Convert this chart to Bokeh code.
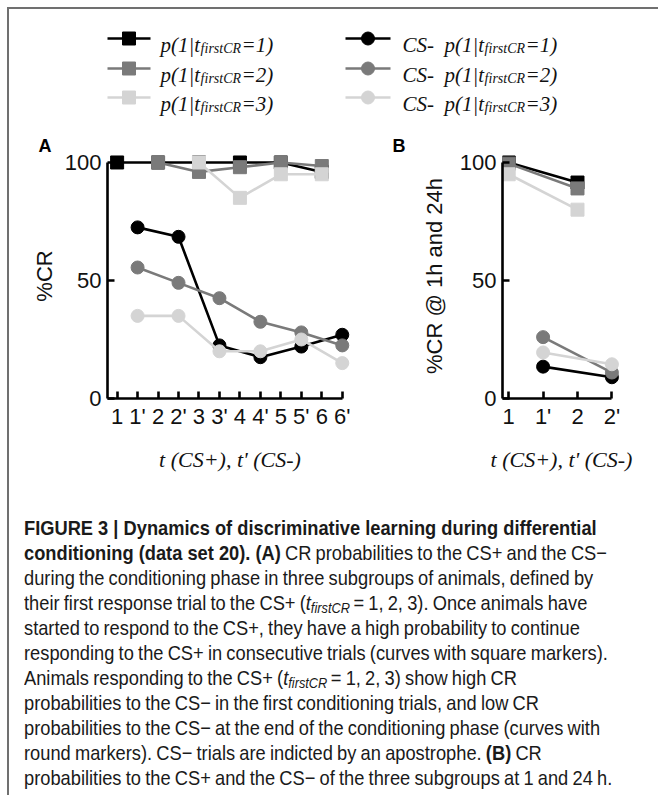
import math
from bokeh.plotting import figure
from bokeh.models import Range1d, FixedTicker, Div
from bokeh.layouts import column, row
from bokeh.embed import file_html
from bokeh.resources import INLINE
from bokeh.core.properties import value

# ---------------- data ----------------
tick_labels_A = ["1", "1'", "2", "2'", "3", "3'", "4", "4'", "5", "5'", "6", "6'"]
csplus_pos_A = [0, 2, 4, 6, 8, 10]
csminus_pos_A = [1, 3, 5, 7, 9, 11]

# CS+ (square markers), first CR at trial 1, 2, 3
A_plus_1 = [100, 100, 100, 100, 100, 96]
A_plus_2 = [math.nan, 100, 96, 98, 100, 98.5]
A_plus_3 = [math.nan, math.nan, 100, 85, 95, 95]
# CS- (round markers)
A_minus_1 = [72.5, 68.5, 22.5, 17.5, 22, 27]
A_minus_2 = [55.5, 49, 42.5, 32.5, 28, 22.5]
A_minus_3 = [35, 35, 20, 20, 25, 15]

tick_labels_B = ["1", "1'", "2", "2'"]
csplus_pos_B = [0, 2]
csminus_pos_B = [1, 3]
B_plus_1 = [100, 91.5]
B_plus_2 = [99.5, 89]
B_plus_3 = [95, 80]
B_minus_1 = [13.5, 9]
B_minus_2 = [26, 11]
B_minus_3 = [19.5, 14.5]

legend_groups = ["1", "2", "3"]

# ---------------- style ----------------
COLORS = ["#000000", "#7a7a7a", "#d4d4d4"]
SANS = "Liberation Sans"
SERIF = "Liberation Serif"
TXT = "#111111"
LW = 2.6
MSIZE = 13


def valid(xs, ys):
    pts = [(x, y) for x, y in zip(xs, ys) if not (isinstance(y, float) and math.isnan(y))]
    return [p[0] for p in pts], [p[1] for p in pts]


def style_axes(p, xlabel, ylabel, ylabel_standoff):
    p.grid.visible = False
    p.outline_line_color = None
    for ax in (p.xaxis[0], p.yaxis[0]):
        ax.axis_line_width = LW
        ax.axis_line_color = "black"
        ax.major_tick_line_width = LW
        ax.major_tick_line_color = "black"
        ax.major_tick_in = 7
        ax.major_tick_out = 0
        ax.minor_tick_line_color = None
        ax.major_label_text_font = SANS
        ax.major_label_text_font_size = "22px"
        ax.major_label_text_color = TXT
    p.xaxis.major_label_standoff = 5
    p.yaxis.major_label_standoff = 6
    p.xaxis.axis_label = xlabel
    p.xaxis.axis_label_text_font = SERIF
    p.xaxis.axis_label_text_font_style = "italic"
    p.xaxis.axis_label_text_font_size = "22px"
    p.xaxis.axis_label_text_color = TXT
    p.xaxis.axis_label_standoff = 15
    p.yaxis.axis_label = ylabel
    p.yaxis.axis_label_text_font = SANS
    p.yaxis.axis_label_text_font_style = "normal"
    p.yaxis.axis_label_text_font_size = "22px"
    p.yaxis.axis_label_text_color = TXT
    p.yaxis.axis_label_standoff = ylabel_standoff
    p.yaxis.ticker = FixedTicker(ticks=[0, 50, 100])
    p.yaxis.bounds = (0, 100)


def panel_letter(p, letter, offset):
    p.title.text = letter
    p.title.align = "left"
    p.title.offset = offset
    p.title.standoff = -4
    p.title.text_font = SANS
    p.title.text_font_style = "bold"
    p.title.text_font_size = "18px"
    p.title.text_color = "black"


def draw_series(p, xs, ys, color, marker):
    x, y = valid(xs, ys)
    p.line(x, y, line_color=color, line_width=LW)
    p.scatter(x, y, marker=marker, size=MSIZE, fill_color=color, line_color=color)


# ---------------- panel A ----------------
pA = figure(width=371, height=363, x_range=Range1d(-0.47, 11.5), y_range=Range1d(0, 103.8),
            output_backend="svg", toolbar_location=None, margin=0,
            min_border_left=98, min_border_right=28, min_border_top=26, min_border_bottom=92)
style_axes(pA, "t (CS+), t' (CS-)", "%CR", 5)
panel_letter(pA, "A", -69)
pA.xaxis.ticker = FixedTicker(ticks=list(range(len(tick_labels_A))))
pA.xaxis.major_label_overrides = {i: t for i, t in enumerate(tick_labels_A)}
pA.xaxis.bounds = (-0.47, len(tick_labels_A) - 1)

for ys, c in zip([A_plus_1, A_plus_2, A_plus_3], COLORS):
    draw_series(pA, csplus_pos_A, ys, c, "square")
for ys, c in zip([A_minus_1, A_minus_2, A_minus_3], COLORS):
    draw_series(pA, csminus_pos_A, ys, c, "circle")

# ---------------- panel B ----------------
pB = figure(width=278, height=363, x_range=Range1d(-0.18, 3.25), y_range=Range1d(0, 103.8),
            output_backend="svg", toolbar_location=None, margin=0,
            min_border_left=122, min_border_right=38, min_border_top=26, min_border_bottom=92)
style_axes(pB, "t (CS+), t' (CS-)", "%CR @ 1h and 24h", 10)
panel_letter(pB, "B", -110)
pB.xaxis.ticker = FixedTicker(ticks=list(range(len(tick_labels_B))))
pB.xaxis.major_label_overrides = {i: t for i, t in enumerate(tick_labels_B)}
pB.xaxis.bounds = (-0.18, len(tick_labels_B) - 1)

for ys, c in zip([B_plus_1, B_plus_2, B_plus_3], COLORS):
    draw_series(pB, csplus_pos_B, ys, c, "square")
for ys, c in zip([B_minus_1, B_minus_2, B_minus_3], COLORS):
    draw_series(pB, csminus_pos_B, ys, c, "circle")

# ---------------- legend (figure in page-pixel coordinates) ----------------
pL = figure(width=649, height=118, x_range=Range1d(9, 658), y_range=Range1d(127, 9),
            output_backend="svg", toolbar_location=None, min_border=0, margin=0)
pL.axis.visible = False
pL.grid.visible = False
pL.outline_line_color = None

row_y = [38, 68, 97]
cols = [
    dict(x0=107, x1=150, marker="square", prefix=None, tx=160),
    dict(x0=345, x1=390, marker="circle", prefix="CS-", tx=444),
]
MAIN_FS = 21
SUB_FS = 14
w_main = 1.886 * MAIN_FS   # "p(1|t" in Times italic
w_sub = 2.89 * SUB_FS      # "firstCR"
for col in cols:
    for g, y, c in zip(legend_groups, row_y, COLORS):
        pL.segment(x0=[col["x0"]], x1=[col["x1"]], y0=[y], y1=[y], line_color=c, line_width=LW)
        pL.scatter([(col["x0"] + col["x1"]) / 2], [y], marker=col["marker"], size=MSIZE,
                   fill_color=c, line_color=c)
        if col["prefix"]:
            pL.text([402], [y + 6], text=[col["prefix"]], text_font=value(SERIF),
                    text_font_style="italic", text_font_size=f"{MAIN_FS}px",
                    text_baseline="alphabetic", text_color=TXT)
        tx = col["tx"]
        pL.text([tx], [y + 6], text=["p(1|t"], text_font=value(SERIF), text_font_style="italic",
                text_font_size=f"{MAIN_FS}px", text_baseline="alphabetic", text_color=TXT)
        pL.text([tx + w_main + 0.5], [y + 10], text=["firstCR"], text_font=value(SERIF),
                text_font_style="italic", text_font_size=f"{SUB_FS}px",
                text_baseline="alphabetic", text_color=TXT)
        pL.text([tx + w_main + w_sub + 1], [y + 6], text=[f"={g})"], text_font=value(SERIF),
                text_font_style="italic", text_font_size=f"{MAIN_FS}px",
                text_baseline="alphabetic", text_color=TXT)

# ---------------- caption ----------------
tf = ("<i>t</i><span style='font-size:70%;line-height:0;position:relative;top:0.2em;"
      "margin-right:4px'><i>firstCR</i></span>")
B = "<b style='word-spacing:0'>"
caption_lines = [
    f"{B}FIGURE 3 | Dynamics of discriminative learning during differential</b>",
    f"{B}conditioning (data set 20). (A)</b> CR probabilities to the CS+ and the CS\u2212",
    "during the conditioning phase in three subgroups of animals, defined by",
    f"their first response trial to the CS+ ({tf}= 1, 2, 3). Once animals have",
    "started to respond to the CS+, they have a high probability to continue",
    "responding to the CS+ in consecutive trials (curves with square markers).",
    f"Animals responding to the CS+ ({tf}= 1, 2, 3) show high CR",
    "probabilities to the CS\u2212 in the first conditioning trials, and low CR",
    "probabilities to the CS\u2212 at the end of the conditioning phase (curves with",
    f"round markers). CS\u2212 trials are indicted by an apostrophe. {B}(B)</b> CR",
    "probabilities to the CS+ and the CS\u2212 of the three subgroups at 1 and 24 h.",
]
cap_html = ("<div style='padding-top:25px;padding-left:15px;'>"
            "<div style=\"font-family:'Liberation Sans',Arial,sans-serif;font-size:21px;"
            "line-height:25px;color:#1a1a1a;white-space:nowrap;word-spacing:-1px;"
            "transform:scaleX(0.87);transform-origin:0 0;\">"
            + "".join(f"<div style='height:25px;line-height:25px'>{l}</div>" for l in caption_lines)
            + "</div></div>")
cap = Div(text=cap_html, width=649, height=300, margin=0)

# ---------------- frame lines (page border of the figure plate) ----------------
top_bar = Div(text="", width=651, height=2, margin=(7, 0, 0, 7),
              styles={"background-color": "#707070"})
left_bar = Div(text="", width=2, height=786, margin=(0, 0, 0, 7),
               styles={"background-color": "#707070"})

main = column(pL, row(pA, pB, margin=0), cap, margin=0)
layout = column(top_bar, row(left_bar, main, margin=0), margin=0)

open("out.html", "w").write(file_html(layout, INLINE))
